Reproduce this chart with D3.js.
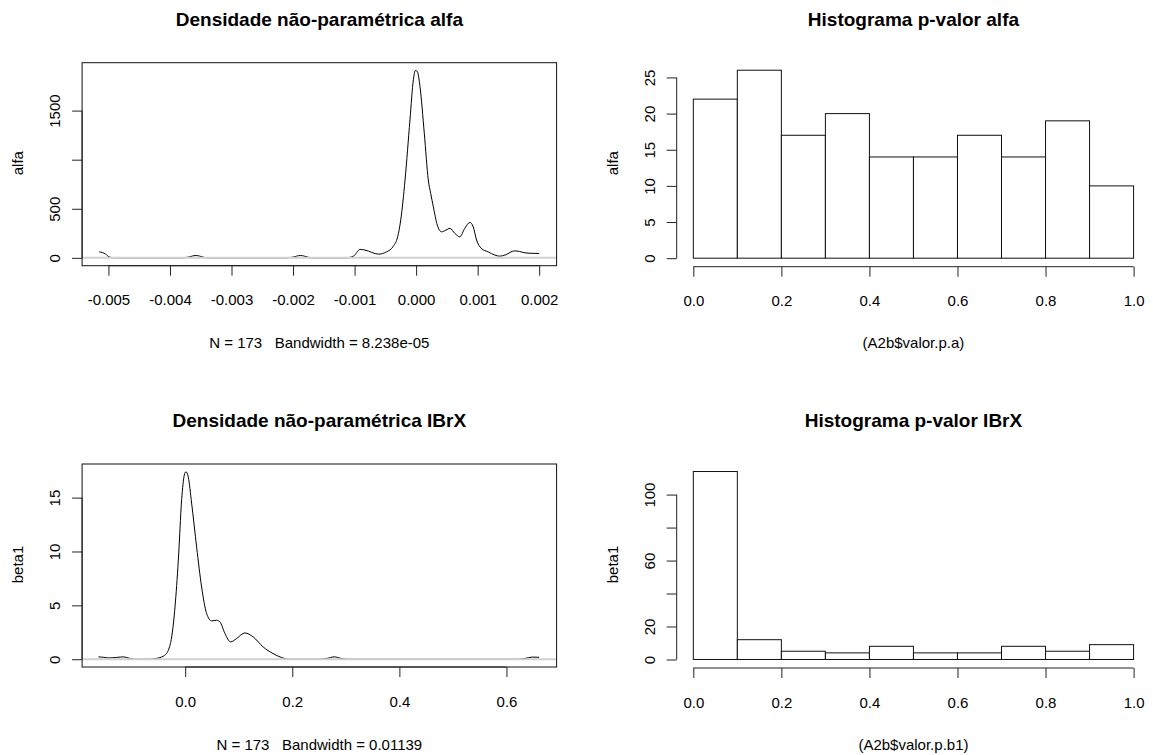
<!DOCTYPE html>
<html>
<head>
<meta charset="utf-8">
<script src="https://cdnjs.cloudflare.com/ajax/libs/d3/7.8.5/d3.min.js"></script>
<style>
  body { margin: 0; background: #fff; }
  svg text { font-family: "Liberation Sans", Arial, sans-serif; fill: #000; }
</style>
</head>
<body>
<svg id="chart" width="1153" height="755"></svg>
<script>
// kernel density of alfa
var alfaX = [-0.00515, -0.00505, -0.00499, -0.0049, -0.0038, -0.0037, -0.00358, -0.00346, -0.0034,
  -0.0021, -0.002, -0.00188, -0.00176, -0.0017, -0.00115, -0.00102, -0.00091, -0.00083, -0.00061,
  -0.00048, -0.00037, -0.0003, -0.00025, -0.00018, -0.0001, -0.000045, -0.000013, 0.00002, 0.000063,
  0.000133, 0.000198, 0.000237, 0.00028, 0.000344, 0.000415, 0.000485, 0.00055, 0.00063, 0.00071,
  0.00079, 0.000875, 0.000928, 0.000983, 0.00106, 0.00117, 0.00128, 0.00136, 0.00145, 0.0016,
  0.00168, 0.00177, 0.0019, 0.002];
var alfaY = [61, 40, 10, 0, 0, 8, 24, 8, 0,
  0, 8, 24, 8, 0, 0, 17, 86, 79, 38,
  61, 119, 214, 385, 793, 1405, 1813, 1908, 1898, 1745,
  1269, 793, 657, 520, 334, 265, 283, 300, 249, 214,
  300, 361, 316, 181, 96, 61, 28, 17, 30, 71,
  65, 51, 46, 45];

// kernel density of beta1 (IBrX)
var betaX = [-0.162, -0.152, -0.142, -0.128, -0.115, -0.105, -0.095, -0.07, -0.0563, -0.041, -0.0315,
  -0.0252, -0.019, -0.0128, -0.0066, -0.0016, 0.0015, 0.0058, 0.012, 0.0214, 0.0307, 0.040, 0.0494,
  0.0587, 0.0649, 0.0742, 0.0848, 0.096, 0.1115, 0.127, 0.1456, 0.164, 0.18, 0.195, 0.25, 0.265,
  0.278, 0.291, 0.305, 0.62, 0.635, 0.648, 0.661];
var betaY = [0.22, 0.18, 0.12, 0.17, 0.22, 0.1, 0, 0, 0.06, 0.28, 0.84,
  2.07, 4.86, 9.2, 14.8, 17.1, 17.4, 16.9, 14.5, 10.4, 6.7, 4.25, 3.56,
  3.62, 3.47, 2.39, 1.61, 1.92, 2.44, 2.07, 1.14, 0.53, 0.16, 0, 0, 0.08,
  0.22, 0.08, 0, 0, 0.08, 0.2, 0.18];

// histograms of the p-values
var breaks = [0, 0.1, 0.2, 0.3, 0.4, 0.5, 0.6, 0.7, 0.8, 0.9, 1.0];
var countsAlfa = [22, 26, 17, 20, 14, 14, 17, 14, 19, 10];
var countsBeta = [114, 12, 5, 4, 8, 4, 4, 8, 5, 9];

// ticks and labels
var alfaXTicks = [-0.005, -0.004, -0.003, -0.002, -0.001, 0, 0.001, 0.002];
var alfaXLabels = ['-0.005', '-0.004', '-0.003', '-0.002', '-0.001', '0.000', '0.001', '0.002'];
var alfaYTicks = [0, 500, 1000, 1500];
var alfaYLabels = ['0', '500', '', '1500'];
var betaXTicks = [0, 0.2, 0.4, 0.6];
var betaXLabels = ['0.0', '0.2', '0.4', '0.6'];
var betaYTicks = [0, 5, 10, 15];
var betaYLabels = ['0', '5', '10', '15'];
var histXTicks = [0, 0.2, 0.4, 0.6, 0.8, 1.0];
var histXLabels = ['0.0', '0.2', '0.4', '0.6', '0.8', '1.0'];
var histAlfaYTicks = [0, 5, 10, 15, 20, 25];
var histAlfaYLabels = ['0', '5', '10', '15', '20', '25'];
var histBetaYTicks = [0, 20, 40, 60, 80, 100];
var histBetaYLabels = ['0', '20', '', '60', '', '100'];

var svg = d3.select('#chart');
svg.append('rect').attr('width', 1153).attr('height', 755).attr('fill', '#fff');

var FS = 15;
var TICK = 10;
var leftCol = [82.1, 556.6];
var rightCol = [675.7, 1151.2];
var rowTop = [62.7, 464];
var plotH = 203;

function bottomAxis(g, x, ticks, labels, y) {
  var ax = g.append('g')
    .attr('transform', 'translate(0,' + y + ')')
    .call(d3.axisBottom(x).tickValues(ticks).tickSize(TICK).tickSizeOuter(0)
      .tickFormat(function (d, i) { return labels[i]; }));
  ax.attr('font-size', FS).attr('font-family', null).attr('color', '#222');
  ax.select('.domain').remove();
  ax.selectAll('text').attr('y', 39.5).attr('dy', null);
  ax.append('line')
    .attr('x1', x(ticks[0])).attr('x2', x(ticks[ticks.length - 1]))
    .attr('stroke', '#222');
}

function leftAxis(g, yScale, ticks, labels, x) {
  var ax = g.append('g')
    .attr('transform', 'translate(' + x + ',0)')
    .call(d3.axisLeft(yScale).tickValues(ticks).tickSize(TICK).tickSizeOuter(0)
      .tickFormat(function (d, i) { return labels[i]; }));
  ax.attr('font-size', FS).attr('font-family', null).attr('color', '#222');
  ax.select('.domain').remove();
  // R draws y labels parallel to the axis
  ax.selectAll('text')
    .attr('x', 0).attr('y', -22).attr('dy', null)
    .attr('text-anchor', 'middle')
    .attr('transform', 'rotate(-90)');
  ax.append('line')
    .attr('y1', yScale(ticks[0])).attr('y2', yScale(ticks[ticks.length - 1]))
    .attr('stroke', '#222');
}

function titles(g, cx, top, title, under, ylab, yx) {
  g.append('text')
    .attr('x', cx).attr('y', top - 37)
    .attr('text-anchor', 'middle')
    .attr('font-size', 19).attr('font-weight', 'bold')
    .text(title);
  g.append('text')
    .attr('x', cx).attr('y', top + 285.5)
    .attr('text-anchor', 'middle')
    .attr('font-size', FS)
    .style('white-space', 'pre')
    .text(under);
  g.append('text')
    .attr('transform', 'translate(' + yx + ',' + (top + 100.5) + ')rotate(-90)')
    .attr('text-anchor', 'middle')
    .attr('font-size', FS)
    .text(ylab);
}

function densityPanel(o) {
  var g = svg.append('g');
  var top = rowTop[o.row];
  var x = d3.scaleLinear().domain(o.xDomain).range(leftCol);
  var y = d3.scaleLinear().domain(o.yDomain).range([top + plotH, top]);
  var pts = o.xs.map(function (d, i) { return [d, o.ys[i]]; });

  g.append('path')
    .datum(pts)
    .attr('fill', 'none')
    .attr('stroke', '#000')
    .attr('stroke-width', 1)
    .attr('d', d3.line()
      .x(function (d) { return x(d[0]); })
      .y(function (d) { return y(d[1]); })
      .curve(d3.curveMonotoneX));

  // zero line drawn on top like abline(h = 0)
  g.append('line')
    .attr('x1', leftCol[0]).attr('x2', leftCol[1])
    .attr('y1', y(0)).attr('y2', y(0))
    .attr('stroke', '#d0d0d0').attr('stroke-width', 2);

  g.append('rect')
    .attr('x', leftCol[0]).attr('y', top)
    .attr('width', leftCol[1] - leftCol[0]).attr('height', plotH)
    .attr('fill', 'none').attr('stroke', '#111');

  bottomAxis(g, x, o.xTicks, o.xLabels, top + plotH);
  leftAxis(g, y, o.yTicks, o.yLabels, leftCol[0]);
  titles(g, (leftCol[0] + leftCol[1]) / 2, top, o.title, o.sub, o.ylab, 23);
}

function histPanel(o) {
  var g = svg.append('g');
  var top = rowTop[o.row];
  var x = d3.scaleLinear().domain([-0.04, 1.04]).range(rightCol);
  var maxC = d3.max(o.counts);
  var y = d3.scaleLinear().domain([-0.04 * maxC, 1.04 * maxC]).range([top + plotH, top]);

  g.selectAll('rect.bar')
    .data(o.counts)
    .enter().append('rect')
    .attr('class', 'bar')
    .attr('x', function (d, i) { return x(breaks[i]); })
    .attr('width', function (d, i) { return x(breaks[i + 1]) - x(breaks[i]); })
    .attr('y', function (d) { return y(d); })
    .attr('height', function (d) { return y(0) - y(d); })
    .attr('fill', '#fff')
    .attr('stroke', '#111');

  bottomAxis(g, x, histXTicks, histXLabels, top + plotH + 1);
  leftAxis(g, y, o.yTicks, o.yLabels, rightCol[0] + 1);
  titles(g, (rightCol[0] + rightCol[1]) / 2, top, o.title, o.xlab, o.ylab, 617.5);
}

densityPanel({
  row: 0, xs: alfaX, ys: alfaY,
  xDomain: [-0.005428, 0.002283], yDomain: [-80, 1988],
  xTicks: alfaXTicks, xLabels: alfaXLabels, yTicks: alfaYTicks, yLabels: alfaYLabels,
  title: 'Densidade não-paramétrica alfa',
  sub: 'N = 173   Bandwidth = 8.238e-05',
  ylab: 'alfa'
});

histPanel({
  row: 0, counts: countsAlfa,
  yTicks: histAlfaYTicks, yLabels: histAlfaYLabels,
  title: 'Histograma p-valor alfa',
  xlab: '(A2b$valor.p.a)',
  ylab: 'alfa'
});

densityPanel({
  row: 1, xs: betaX, ys: betaY,
  xDomain: [-0.1925, 0.6936], yDomain: [-0.72, 18.12],
  xTicks: betaXTicks, xLabels: betaXLabels, yTicks: betaYTicks, yLabels: betaYLabels,
  title: 'Densidade não-paramétrica IBrX',
  sub: 'N = 173   Bandwidth = 0.01139',
  ylab: 'beta1'
});

histPanel({
  row: 1, counts: countsBeta,
  yTicks: histBetaYTicks, yLabels: histBetaYLabels,
  title: 'Histograma p-valor IBrX',
  xlab: '(A2b$valor.p.b1)',
  ylab: 'beta1'
});
</script>
</body>
</html>
